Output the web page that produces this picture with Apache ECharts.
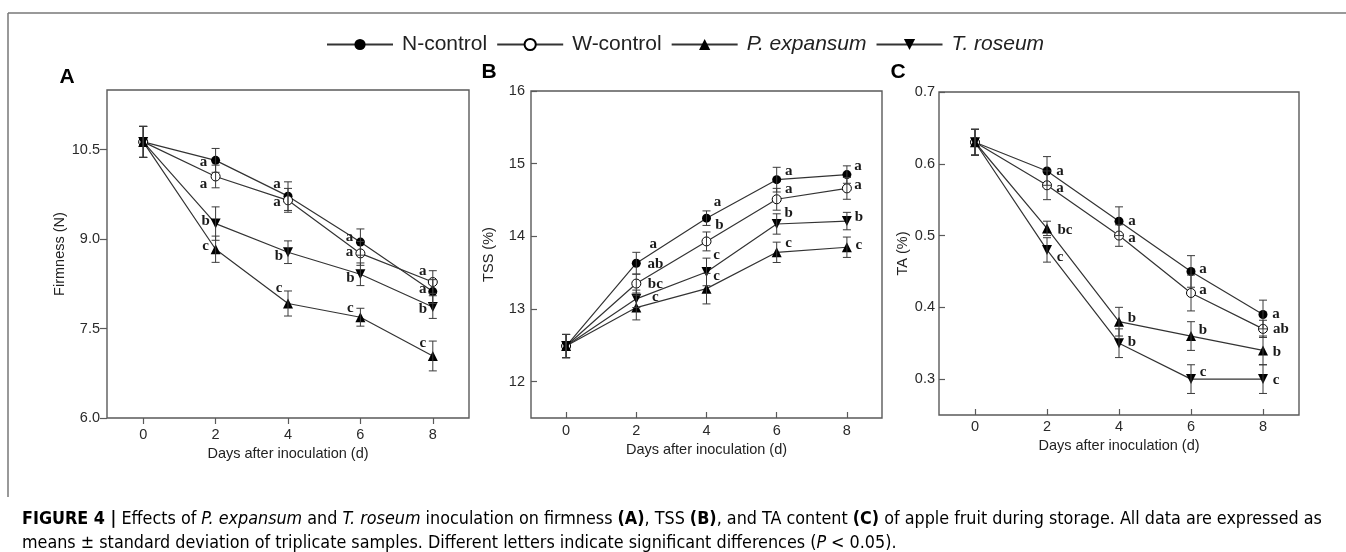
<!DOCTYPE html>
<html>
<head>
<meta charset="utf-8">
<script src="https://cdn.jsdelivr.net/npm/echarts@6/dist/echarts.min.js"></script>
<style>
  html, body { margin: 0; padding: 0; background: #fff; }
  #chart { width: 1346px; height: 552px; }
</style>
</head>
<body>
<div id="chart"></div>
<script>
// ---- data -------------------------------------------------------------
const days = [0, 2, 4, 6, 8];
const treatments = ['N-control', 'W-control', 'P. expansum', 'T. roseum'];

// Firmness (N)
const firmN = [10.63, 10.32, 9.72, 8.95, 8.12];
const firmW = [10.63, 10.05, 9.65, 8.76, 8.28];
const firmP = [10.63, 8.83, 7.92, 7.69, 7.04];
const firmT = [10.63, 9.26, 8.78, 8.41, 7.86];
const firmNsd = [0.26, 0.20, 0.24, 0.22, 0.20];
const firmWsd = [0.26, 0.19, 0.20, 0.20, 0.19];
const firmPsd = [0.26, 0.22, 0.21, 0.15, 0.25];
const firmTsd = [0.26, 0.28, 0.19, 0.19, 0.19];
const firmNlet = ['', 'a', 'a', 'a', 'a'];
const firmWlet = ['', 'a', 'a', 'a', 'a'];
const firmPlet = ['', 'c', 'c', 'c', 'c'];
const firmTlet = ['', 'b', 'b', 'b', 'b'];

// TSS (%)
const tssN = [12.49, 13.63, 14.25, 14.78, 14.85];
const tssW = [12.49, 13.35, 13.93, 14.51, 14.66];
const tssP = [12.49, 13.02, 13.28, 13.78, 13.85];
const tssT = [12.49, 13.14, 13.51, 14.17, 14.21];
const tssNsd = [0.16, 0.15, 0.10, 0.17, 0.12];
const tssWsd = [0.16, 0.13, 0.13, 0.15, 0.15];
const tssPsd = [0.16, 0.17, 0.21, 0.14, 0.14];
const tssTsd = [0.16, 0.12, 0.19, 0.14, 0.12];
const tssNlet = ['', 'a', 'a', 'a', 'a'];
const tssWlet = ['', 'ab', 'b', 'a', 'a'];
const tssPlet = ['', 'c', 'c', 'c', 'c'];
const tssTlet = ['', 'bc', 'c', 'b', 'b'];

// TA (%)
const taN = [0.63, 0.59, 0.52, 0.45, 0.39];
const taW = [0.63, 0.57, 0.50, 0.42, 0.37];
const taP = [0.63, 0.51, 0.38, 0.36, 0.34];
const taT = [0.63, 0.48, 0.35, 0.30, 0.30];
const taNsd = [0.018, 0.020, 0.020, 0.022, 0.020];
const taWsd = [0.018, 0.020, 0.015, 0.025, 0.012];
const taPsd = [0.018, 0.010, 0.020, 0.020, 0.020];
const taTsd = [0.018, 0.017, 0.020, 0.020, 0.020];
const taNlet = ['', 'a', 'a', 'a', 'a'];
const taWlet = ['', 'a', 'a', 'a', 'ab'];
const taPlet = ['', 'bc', 'b', 'b', 'b'];
const taTlet = ['', 'c', 'b', 'c', 'c'];

// tick values
const xTicks = [0, 2, 4, 6, 8];
const firmTicks = [6, 7.5, 9, 10.5];
const tssTicks = [12, 13, 14, 15, 16];
const taTicks = [0.3, 0.4, 0.5, 0.6, 0.7];

// ---- layout of the significance letters (pixel offsets from each point) --
const letterOffsetsA = [
  [[-12, 2], [-11, -12], [-11, -5], [-10, -2]],
  [[-12, 8], [-11, 2], [-11, -1], [-10, -11]],
  [[-10, -3], [-9, -15], [-10, -9], [-10, -13]],
  [[-10, -2], [-9, 4], [-10, 4], [-10, 2]]
];
const letterOffsetsB = [
  [[17, -19], [11, -16], [12, -9], [11, -8]],
  [[19, -19], [13, -16], [12, -10], [11, -3]],
  [[19, -10], [10, -13], [12, -9], [12, -2]],
  [[19, -15], [10, -17], [12, -11], [12, -4]]
];
const letterOffsetsC = [
  [[13, 0], [13, 0], [12, -2], [13, 0]],
  [[13, 3], [13, 3], [12, -3], [18, 0]],
  [[18, 2], [13, -4], [12, -6], [14, 2]],
  [[13, 7], [13, -1], [12, -7], [13, 1]]
];

// ---- styles -------------------------------------------------------------
const SANS = '"Liberation Sans", Arial, sans-serif';
const SERIF = '"Liberation Serif", "Times New Roman", serif';
const NARROW = '"Liberation Sans Narrow", "DejaVu Sans Condensed", sans-serif';
const lineColor = '#333';

const markerStyles = [
  { symbol: 'circle', symbolSize: 9, symbolRotate: 0, itemStyle: { color: '#000' } },
  { symbol: 'circle', symbolSize: 9, symbolRotate: 0, itemStyle: { color: '#fff', borderColor: '#000', borderWidth: 1 } },
  { symbol: 'triangle', symbolSize: 10, symbolRotate: 0, itemStyle: { color: '#000' } },
  { symbol: 'triangle', symbolSize: 10, symbolRotate: 180, itemStyle: { color: '#000' } }
];

const panels = [
  {
    values: [firmN, firmW, firmP, firmT], sds: [firmNsd, firmWsd, firmPsd, firmTsd],
    letters: [firmNlet, firmWlet, firmPlet, firmTlet], offsets: letterOffsetsA,
    grid: { left: 107, top: 90, width: 362, height: 328 },
    yMin: 6, yMax: 11.5, yTicks: firmTicks, yName: 'Firmness (N)', fmt: v => v.toFixed(1),
    tickInside: false, yLabelMargin: 7, xLabelMargin: 9, yNameGap: 39, xNameGap: 26
  },
  {
    values: [tssN, tssW, tssP, tssT], sds: [tssNsd, tssWsd, tssPsd, tssTsd],
    letters: [tssNlet, tssWlet, tssPlet, tssTlet], offsets: letterOffsetsB,
    grid: { left: 531, top: 91, width: 351, height: 327 },
    yMin: 11.5, yMax: 16, yTicks: tssTicks, yName: 'TSS (%)', fmt: v => String(v),
    tickInside: true, yLabelMargin: 6, xLabelMargin: 5, yNameGap: 35, xNameGap: 22
  },
  {
    values: [taN, taW, taP, taT], sds: [taNsd, taWsd, taPsd, taTsd],
    letters: [taNlet, taWlet, taPlet, taTlet], offsets: letterOffsetsC,
    grid: { left: 939, top: 92, width: 360, height: 323 },
    yMin: 0.25, yMax: 0.7, yTicks: taTicks, yName: 'TA (%)', fmt: v => v.toFixed(1),
    tickInside: true, yLabelMargin: 4, xLabelMargin: 4, yNameGap: 28, xNameGap: 23
  }
];

// ---- option assembly -----------------------------------------------------
const grids = [], xAxes = [], yAxes = [], series = [];

panels.forEach((p, gi) => {
  grids.push(Object.assign({
    show: true, borderColor: '#5a5a5a', borderWidth: 1.4, backgroundColor: 'transparent',
    outerBoundsMode: 'none'
  }, p.grid));

  const tick = { show: true, inside: p.tickInside, length: 6, lineStyle: { color: '#5a5a5a', width: 1.2 } };
  const labelBase = { color: '#2a2a2a', fontSize: 14.5, fontFamily: SANS };
  const nameStyle = { color: '#222', fontSize: 14.5, fontFamily: SANS };

  xAxes.push({
    type: 'value', gridIndex: gi, min: -1, max: 9,
    axisLine: { show: false, onZero: false }, splitLine: { show: false },
    axisTick: Object.assign({ customValues: xTicks }, tick),
    axisLabel: Object.assign({ customValues: xTicks, margin: p.xLabelMargin }, labelBase),
    name: 'Days after inoculation (d)', nameLocation: 'middle', nameGap: p.xNameGap,
    nameTextStyle: nameStyle
  });
  yAxes.push({
    type: 'value', gridIndex: gi, min: p.yMin, max: p.yMax,
    axisLine: { show: false, onZero: false }, splitLine: { show: false },
    axisTick: Object.assign({ customValues: p.yTicks }, tick, { length: p.tickInside ? 6 : 7 }),
    axisLabel: Object.assign({ customValues: p.yTicks, margin: p.yLabelMargin, formatter: p.fmt }, labelBase),
    name: p.yName, nameLocation: 'middle', nameGap: p.yNameGap, nameRotate: 90,
    nameTextStyle: nameStyle
  });

  treatments.forEach((name, si) => {
    const m = markerStyles[si];
    series.push({
      type: 'line', name: name, xAxisIndex: gi, yAxisIndex: gi, z: 3,
      data: days.map((d, i) => [d, p.values[si][i]]),
      symbol: m.symbol, symbolSize: m.symbolSize, symbolRotate: m.symbolRotate,
      showSymbol: true, itemStyle: m.itemStyle,
      lineStyle: { color: lineColor, width: 1.2 },
      emphasis: { disabled: true }, silent: true
    });
  });

  // error bars and significance letters
  treatments.forEach((name, si) => {
    const letters = p.letters[si];
    const offs = p.offsets[si];
    series.push({
      type: 'custom', xAxisIndex: gi, yAxisIndex: gi, z: 4, silent: true,
      data: days.map((d, i) => [d, p.values[si][i], p.sds[si][i]]),
      renderItem: (params, api) => {
        const x = api.value(0), y = api.value(1), e = api.value(2);
        const top = api.coord([x, y + e]);
        const bot = api.coord([x, y - e]);
        const c = api.coord([x, y]);
        const cap = 4;
        const st = { stroke: '#3a3a3a', lineWidth: 1 };
        const children = [
          { type: 'line', shape: { x1: top[0], y1: top[1], x2: bot[0], y2: bot[1] }, style: st },
          { type: 'line', shape: { x1: top[0] - cap, y1: top[1], x2: top[0] + cap, y2: top[1] }, style: st },
          { type: 'line', shape: { x1: bot[0] - cap, y1: bot[1], x2: bot[0] + cap, y2: bot[1] }, style: st }
        ];
        const letter = letters[params.dataIndex];
        if (letter) {
          const o = offs[params.dataIndex - 1];
          children.push({
            type: 'text', x: c[0] + o[0], y: c[1] + o[1],
            style: { text: letter, font: 'bold 15px ' + SERIF, fill: '#1a1a1a', align: 'center', verticalAlign: 'middle' }
          });
        }
        return { type: 'group', children: children };
      }
    });
  });
});

const CAP = 17.8;
const captionRich = {
  b: { fontFamily: NARROW, fontSize: CAP, fontWeight: 'bold', color: '#111' },
  i: { fontFamily: NARROW, fontSize: CAP, fontStyle: 'italic', color: '#333' },
  n: { fontFamily: NARROW, fontSize: CAP, color: '#333' }
};

const option = {
  animation: false,
  backgroundColor: '#fff',
  grid: grids, xAxis: xAxes, yAxis: yAxes, series: series,
  legend: {
    top: 34, left: 326, padding: 0,
    data: treatments,
    itemWidth: 66, itemHeight: 14, itemGap: 9,
    selectedMode: false,
    textStyle: {
      fontFamily: SANS, fontSize: 21, color: '#222', padding: [0, 0, 0, 4],
      rich: { it: { fontFamily: SANS, fontSize: 21, color: '#222', fontStyle: 'italic' } }
    },
    formatter: name => (name.indexOf('.') > 0 ? '{it|' + name + '}' : name)
  },
  graphic: [
    { type: 'line', shape: { x1: 8, y1: 13, x2: 1346, y2: 13 }, style: { stroke: '#777', lineWidth: 1.5 }, silent: true },
    { type: 'line', shape: { x1: 8, y1: 13, x2: 8, y2: 497 }, style: { stroke: '#777', lineWidth: 1.5 }, silent: true },
    { type: 'text', x: 67, y: 77, style: { text: 'A', font: 'bold 21px ' + SANS, fill: '#000', align: 'center', verticalAlign: 'middle' } },
    { type: 'text', x: 489, y: 72, style: { text: 'B', font: 'bold 21px ' + SANS, fill: '#000', align: 'center', verticalAlign: 'middle' } },
    { type: 'text', x: 898, y: 72, style: { text: 'C', font: 'bold 21px ' + SANS, fill: '#000', align: 'center', verticalAlign: 'middle' } },
    {
      type: 'text', x: 22, y: 519,
      style: {
        text: '{b|FIGURE 4 |}{n| Effects of }{i|P. expansum}{n| and }{i|T. roseum}{n| inoculation on firmness }{b|(A)}{n|, TSS }{b|(B)}{n|, and TA content }{b|(C)}{n| of apple fruit during storage. All data are expressed as}',
        rich: captionRich, verticalAlign: 'middle'
      }
    },
    {
      type: 'text', x: 22, y: 543,
      style: {
        text: '{n|means ± standard deviation of triplicate samples. Different letters indicate significant differences (}{i|P}{n| < 0.05).}',
        rich: captionRich, verticalAlign: 'middle'
      }
    }
  ]
};

const chart = echarts.init(document.getElementById('chart'), null, { renderer: 'canvas' });
chart.setOption(option);
</script>
</body>
</html>
